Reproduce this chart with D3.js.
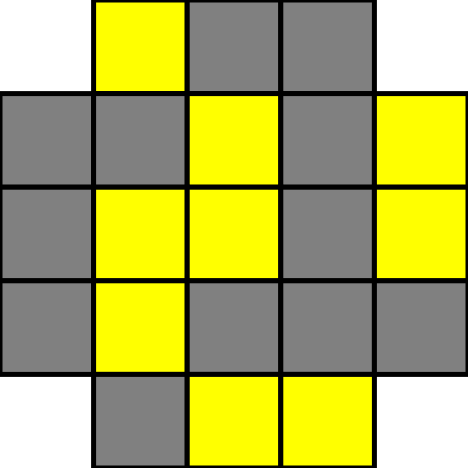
<!DOCTYPE html>
<html>
<head>
<meta charset="utf-8">
<script src="https://d3js.org/d3.v7.min.js"></script>
<style>body{margin:0;background:#fff}</style>
</head>
<body>
<svg width="468" height="468"></svg>
<script>
var rows = [0, 1, 2, 3, 4];
var cols = [0, 1, 2, 3, 4];
// Y = yellow, G = gray, "" = empty corner
var grid = [
  ["", "Y", "G", "G", ""],
  ["G", "G", "Y", "G", "Y"],
  ["G", "Y", "Y", "G", "Y"],
  ["G", "Y", "G", "G", "G"],
  ["", "G", "Y", "Y", ""]
];

var svg = d3.select("svg");
var x = d3.scaleBand().domain(cols).range([0, 468]);
var y = d3.scaleBand().domain(rows).range([0, 468]);
var color = d3.scaleOrdinal().domain(["Y", "G"]).range(["#ffff00", "#808080"]);

var cells = [];
grid.forEach(function(r, i) {
  r.forEach(function(v, j) { if (v) cells.push({row: i, col: j, v: v}); });
});

svg.selectAll("rect")
  .data(cells)
  .enter().append("rect")
    .attr("x", function(d) { return x(d.col); })
    .attr("y", function(d) { return y(d.row); })
    .attr("width", x.bandwidth())
    .attr("height", y.bandwidth())
    .style("fill", function(d) { return color(d.v); })
    .style("stroke", "#000")
    .style("stroke-width", 5);
</script>
</body>
</html>
